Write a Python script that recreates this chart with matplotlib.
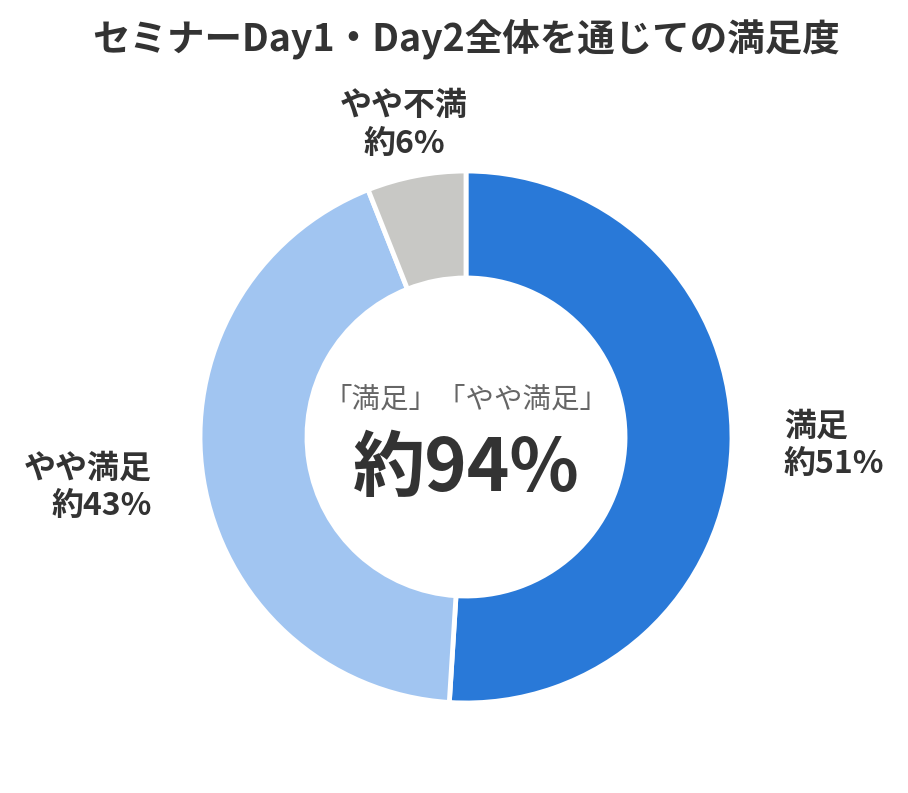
import matplotlib.pyplot as plt

plt.rcParams['font.family'] = ['Noto Sans CJK JP', 'DejaVu Sans']

# 満足度の内訳
labels = ['満足', 'やや満足', 'やや不満']
values = [51, 43, 6]
colors = ['#2979d8', '#a1c5f1', '#c8c8c5']
total_label = '約94%'

fig = plt.figure(figsize=(9.08, 7.93), dpi=100)
ax = fig.add_axes([196 / 908, (793 - 707) / 793, 540 / 908, 540 / 793])
ax.pie(values, colors=colors, startangle=90, counterclock=False, radius=266,
       wedgeprops=dict(width=107, edgecolor='white', linewidth=3.5))
ax.set_xlim(-270, 270)
ax.set_ylim(-270, 270)
ax.set_aspect('equal')
ax.axis('off')

dark = '#333333'
# 各項目のラベル
ax.text(318, -8, f'{labels[0]}\n約{values[0]}%', ha='left', va='center',
        fontsize=23, fontweight='bold', color=dark, linespacing=1.2)
ax.text(-314, -50, f'{labels[1]}\n約{values[1]}%', ha='right', va='center',
        fontsize=23, fontweight='bold', color=dark, linespacing=1.2,
        multialignment='right')
ax.text(-62, 312, f'{labels[2]}\n約{values[2]}%', ha='center', va='center',
        fontsize=23, fontweight='bold', color=dark, linespacing=1.2)

# 中央のテキスト
ax.text(0, 37, '「満足」「やや満足」', ha='center', va='center',
        fontsize=20.5, color='#666666')
ax.text(0, -33, total_label, ha='center', va='center',
        fontsize=52, fontweight='bold', color=dark)

fig.text(466 / 908, 1 - 40 / 793, 'セミナーDay1・Day2全体を通じての満足度',
         ha='center', va='center', fontsize=27, fontweight='bold', color=dark)

fig.savefig('out.png', dpi=100, facecolor='white')
